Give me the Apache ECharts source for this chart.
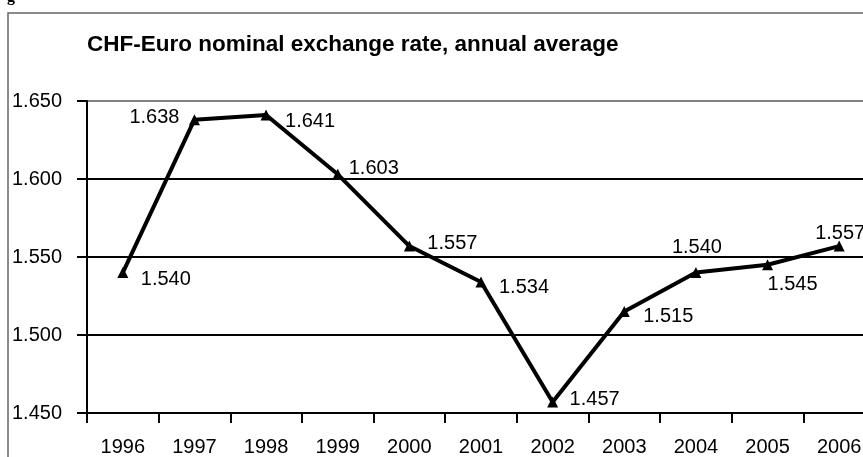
<!DOCTYPE html>
<html><head><meta charset="utf-8">
<script src="https://cdn.jsdelivr.net/npm/echarts@6/dist/echarts.min.js"></script>
<style>html,body{margin:0;padding:0;background:#fff;overflow:hidden;width:863px;height:457px}#c{width:876px;height:457px}</style>
</head><body><div id="c"></div>
<script>
const years = ['1996','1997','1998','1999','2000','2001','2002','2003','2004','2005','2006'];
const rates = [1.540,1.638,1.641,1.603,1.557,1.534,1.457,1.515,1.540,1.545,1.557];
const labelOffsets = [[43,7],[-40,-2],[44,6],[36,-6],[43,-3],[43,6],[42,-3],[44,5],[1,-25],[25,20],[1,-13]];
const yTicks = {min:1.45, max:1.65, interval:0.05};
const titleText = 'CHF-Euro nominal exchange rate, annual average';

const FONT = 'Arial, "Liberation Sans", sans-serif';
const chart = echarts.init(document.getElementById('c'), null, {renderer:'canvas'});
chart.setOption({
  animation:false,
  backgroundColor:'#fff',
  title:{text:titleText,left:82,top:28,textStyle:{fontFamily:FONT,fontSize:22.5,fontWeight:'bold',color:'#000'}},
  graphic:[
    {type:'rect',shape:{x:8,y:13,width:900,height:500},style:{fill:null,stroke:'#666',lineWidth:1.5},silent:true,z:-1},
    {type:'text',left:7,top:-11,style:{text:'g',font:'bold 16px "Liberation Serif", serif',fill:'#000'}}
  ],
  grid:{left:87,top:101,right:1,height:316,containLabel:false},
  xAxis:{type:'category',data:years,boundaryGap:true,
    axisLine:{lineStyle:{color:'#000',width:2}},
    axisTick:{show:true,alignWithLabel:false,length:10,lineStyle:{color:'#000',width:2}},
    axisLabel:{color:'#000',fontFamily:FONT,fontSize:20,margin:24},
    splitLine:{show:false}},
  yAxis:{type:'value',min:yTicks.min,max:yTicks.max,interval:yTicks.interval,
    axisLine:{show:true,lineStyle:{color:'#000',width:2}},
    axisTick:{show:true,length:10,lineStyle:{color:'#000',width:2}},
    axisLabel:{color:'#000',fontFamily:FONT,fontSize:20,margin:25,padding:[4,0,0,0],formatter:v=>v.toFixed(3)},
    splitLine:{show:true,lineStyle:{color:['#000','#000','#000','#000','#808080'],width:2}}},
  series:[{type:'line',data:rates.map((v,i)=>({value:v,label:{offset:labelOffsets[i]}})),
    symbol:'triangle',symbolSize:11,showAllSymbol:true,
    lineStyle:{color:'#000',width:4},itemStyle:{color:'#000'},
    label:{show:true,position:'inside',align:'center',verticalAlign:'middle',
      color:'#000',fontFamily:FONT,fontSize:20,formatter:p=>p.value.toFixed(3)}}]
});
</script></body></html>
